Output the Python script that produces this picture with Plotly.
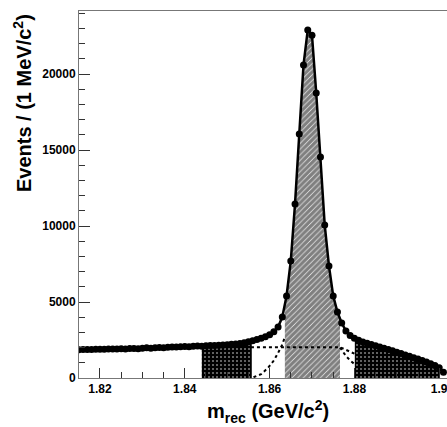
import numpy as np
import plotly.graph_objects as go

# ---- data ----
mass = np.round(np.arange(1.815, 1.9015, 0.001), 3)  # 1 MeV bin centres
counts = [
    1860, 1870, 1880, 1870, 1890, 1895, 1885, 1905, 1900, 1915,   # 1.815-1.824
    1925, 1910, 1935, 1945, 1930, 1955, 1985, 1965, 1995, 2010,   # 1.825-1.834
    1985, 2025, 2045, 2035, 2055, 2070, 2050, 2095, 2105, 2095,   # 1.835-1.844
    2120, 2130, 2145, 2160, 2175, 2195, 2215, 2240, 2275, 2320,   # 1.845-1.854
    2380, 2450, 2530, 2620, 2720, 2850, 3050, 3350, 4010, 5400,   # 1.855-1.864
    7700, 11450, 16050, 20600, 22900, 22550, 18750, 14540, 10070, 7370,  # 1.865-1.874
    5400, 4340, 3620, 3100, 2800, 2620, 2480, 2370, 2290, 2200,   # 1.875-1.884
    2120, 2040, 1960, 1880, 1790, 1700, 1610, 1520, 1430, 1340,   # 1.885-1.894
    1250, 1150, 1050, 940, 820, 680, 380,                         # 1.895-1.901
]
assert len(counts) == len(mass)
counts = np.array(counts, dtype=float)

# regions
left_sb = [1.8440, 1.8558]
signal_win = [1.8636, 1.8766]
right_sb = [1.8801, 1.9002]

# fit components (dotted)
bkg_x = [1.8556, 1.8636, 1.8766, 1.8800]
bkg_y = [2030, 2030, 2030, 1600]
sigL_x = [1.8562, 1.8580, 1.8596, 1.8610, 1.8620, 1.8630, 1.8636]
sigL_y = [50, 250, 660, 1150, 1650, 2200, 2700]
sigR_x = [1.8766, 1.8780, 1.8790, 1.8801]
sigR_y = [2000, 1450, 1150, 900]

xtick_vals = [1.82, 1.84, 1.86, 1.88, 1.90]
xtick_text = ["1.82", "1.84", "1.86", "1.88", "1.9"]
ytick_vals = [0, 5000, 10000, 15000, 20000]
ytick_text = ["0", "5000", "10000", "15000", "20000"]


def band(lo, hi):
    inside = (mass > lo) & (mass < hi)
    xs = np.concatenate([[lo], mass[inside], [hi]])
    ys = np.interp(xs, mass, counts)
    return xs, ys


fig = go.Figure()

dot_pattern = dict(shape=".", bgcolor="black", fgcolor="white", size=4, solidity=0.2)
hatch_pattern = dict(shape="/", bgcolor="white", fgcolor="black", size=4, solidity=0.85)

for lo, hi in (left_sb, right_sb):
    xs, ys = band(lo, hi)
    fig.add_trace(go.Scatter(x=xs, y=ys, mode="none", fill="tozeroy",
                             fillcolor="black", fillpattern=dot_pattern,
                             hoverinfo="skip", showlegend=False))

xs, ys = band(*signal_win)
fig.add_trace(go.Scatter(x=xs, y=ys, mode="none", fill="tozeroy",
                         fillcolor="white", fillpattern=hatch_pattern,
                         hoverinfo="skip", showlegend=False))

dot_line = dict(color="black", width=2, dash="dot")
for xx, yy in ((sigL_x, sigL_y), (sigR_x, sigR_y), (bkg_x, bkg_y)):
    fig.add_trace(go.Scatter(x=xx, y=yy, mode="lines", line=dot_line,
                             hoverinfo="skip", showlegend=False))

fig.add_trace(go.Scatter(x=mass, y=counts, mode="lines+markers",
                         line=dict(color="black", width=2.5),
                         marker=dict(color="black", size=7),
                         showlegend=False))

tickfont = dict(family="Liberation Sans, Arial, sans-serif", size=12,
                color="black", weight="bold")
titlefont = dict(family="Liberation Sans, Arial, sans-serif", size=20,
                 color="black", weight="bold")

fig.update_layout(
    width=447, height=427,
    margin=dict(l=79, r=0, t=11, b=49),
    paper_bgcolor="white", plot_bgcolor="white",
    xaxis=dict(range=[1.81505, 1.90184], tickvals=xtick_vals, ticktext=xtick_text,
               ticks="inside", ticklen=10, tickcolor="#333", tickwidth=1,
               minor=dict(dtick=0.005, tick0=1.82, ticks="inside", ticklen=6,
                          tickcolor="#333", showgrid=False),
               showgrid=False, zeroline=False, showline=True, linecolor="#777",
               linewidth=1, mirror=True, tickfont=tickfont, automargin=False,
               ticklabeloverflow="allow"),
    yaxis=dict(range=[0, 24145], tickvals=ytick_vals, ticktext=ytick_text,
               ticks="inside", ticklen=11, tickcolor="#333", tickwidth=1,
               minor=dict(dtick=1000, tick0=0, ticks="inside", ticklen=6,
                          tickcolor="#333", showgrid=False),
               showgrid=False, zeroline=False, showline=True, linecolor="#777",
               linewidth=1, tickfont=tickfont, automargin=False),
    annotations=[
        dict(text="m<sub>rec</sub> (GeV/c<sup>2</sup>)", xref="paper", yref="paper",
             x=0.5136, y=-0.0926, xanchor="center", yanchor="middle",
             showarrow=False, font=titlefont),
        dict(text="Events / (1 MeV/c<sup>2</sup>)", xref="paper", yref="paper",
             x=-0.155, y=0.997, xanchor="center", yanchor="top", textangle=-90,
             showarrow=False, font=titlefont),
    ],
)

fig.write_html("out.html", config={"displayModeBar": False},
               post_script="document.body.style.margin='0';document.body.style.overflow='hidden';")
